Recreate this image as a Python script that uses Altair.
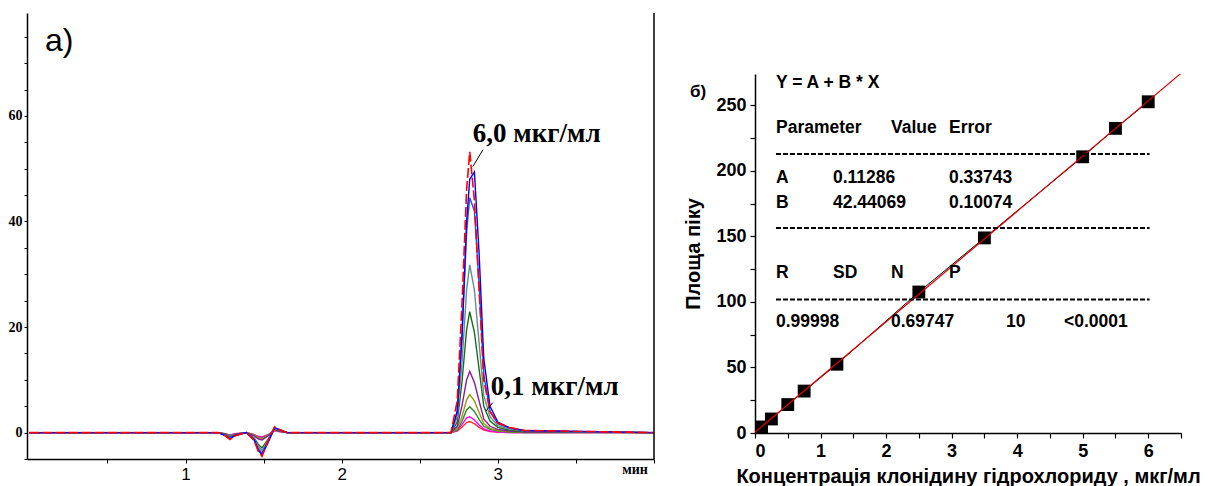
import altair as alt
import pandas as pd

# ---------------- Panel a) chromatogram ----------------
# retention-time grid (min) around the solvent dips and the analyte peak
t_start = [0.0]
t_dip = [1.21, 1.25, 1.285, 1.32, 1.39, 1.44, 1.465, 1.49, 1.53, 1.57, 1.60, 1.65]
t_peak = [2.70, 2.74, 2.77, 2.80, 2.82, 2.85, 2.88, 2.91, 2.95, 3.00, 3.07, 3.17]
t_end = [4.0]

curve_names = ["0.1", "0.25", "0.5", "0.75", "1.25", "2.5", "3.5", "5.0", "5.5", "6.0"]
curve_colors = ["#ff3030", "#ff00ff", "#2e8b2e", "#9a9a10", "#8b1a9b",
                "#1e6b1e", "#5f9090", "#3050e0", "#0000ff", "#ff0000"]

dip_vals = {
    "0.1":  [0, -0.2, -0.5, -0.2, 0, -0.4, -0.7, -0.8, -0.4, 0.4, 0.2, 0],
    "0.25": [0, -0.2, -0.5, -0.2, 0, -0.4, -0.8, -0.9, -0.4, 0.4, 0.2, 0],
    "0.5":  [0, -0.2, -0.6, -0.3, 0, -0.5, -1.0, -1.1, -0.5, 0.5, 0.3, 0],
    "0.75": [0, -0.3, -0.7, -0.3, 0, -0.5, -1.0, -1.2, -0.5, 0.5, 0.3, 0],
    "1.25": [0, -0.3, -0.8, -0.3, 0, -0.6, -1.2, -1.4, -0.6, 0.6, 0.3, 0],
    "2.5":  [0, -0.3, -0.9, -0.4, 0, -1.0, -2.2, -2.9, -1.2, 0.7, 0.4, 0],
    "3.5":  [0, -0.4, -1.0, -0.4, 0, -1.1, -2.6, -3.4, -1.4, 0.8, 0.5, 0],
    "5.0":  [0, -0.4, -1.1, -0.5, 0, -1.3, -3.0, -3.9, -1.6, 0.9, 0.5, 0],
    "5.5":  [0, -0.5, -1.2, -0.5, 0, -1.4, -3.3, -4.2, -1.8, 0.9, 0.6, 0],
    "6.0":  [0, -0.5, -1.3, -0.6, 0, -1.5, -3.5, -4.5, -1.5, 1.1, 0.6, 0],
}
peak_vals = {
    "0.1":  [0, 0.3, 1.0, 1.9, 2.1, 1.7, 1.0, 0.5, 0.2, 0.1, 0, 0],
    "0.25": [0, 0.4, 1.5, 2.8, 3.0, 2.4, 1.5, 0.7, 0.3, 0.1, 0, 0],
    "0.5":  [0, 0.5, 2.1, 4.3, 4.9, 4.0, 2.5, 1.2, 0.6, 0.3, 0.1, 0],
    "0.75": [0, 0.8, 3.0, 6.2, 7.2, 6.0, 3.8, 1.7, 0.8, 0.4, 0.2, 0.1],
    "1.25": [0, 1.2, 5.0, 10.0, 11.6, 9.5, 6.0, 2.6, 1.2, 0.6, 0.3, 0.1],
    "2.5":  [0, 2.0, 9.5, 19.5, 22.9, 19.0, 12.0, 5.0, 2.2, 1.0, 0.5, 0.2],
    "3.5":  [0, 3.0, 13.0, 27.0, 31.8, 27.0, 17.0, 7.0, 3.0, 1.3, 0.7, 0.3],
    "5.0":  [0, 4.0, 18.0, 38.0, 44.5, 42.0, 28.0, 11.0, 4.0, 1.7, 0.9, 0.3],
    "5.5":  [0, 4.0, 18.0, 40.0, 48.0, 49.4, 34.0, 14.0, 5.0, 2.0, 1.0, 0.4],
    "6.0":  [0, 6.0, 24.0, 46.0, 53.2, 44.0, 27.0, 10.0, 4.0, 1.8, 1.0, 0.4],
}

# ---------------- Panel b) calibration ----------------
conc = [0.1, 0.25, 0.5, 0.75, 1.25, 2.5, 3.5, 5.0, 5.5, 6.0]
area = [4.6, 10.7, 21.7, 32.0, 52.5, 107.6, 148.9, 210.8, 232.5, 252.8]

table_rows = [
    ["Y = A + B * X"],
    ["Parameter", "Value", "Error"],
    ["A", "0.11286", "0.33743"],
    ["B", "42.44069", "0.10074"],
    ["R", "SD", "N", "P"],
    ["0.99998", "0.69747", "10", "<0.0001"],
]

# ================= build panel a =================
times = t_start + t_dip + t_peak + t_end
recs = []
for name in curve_names:
    vals = [0] + dip_vals[name] + peak_vals[name] + [0]
    for t, v in zip(times, vals):
        recs.append({"t": t, "v": v, "curve": name})
chrom = pd.DataFrame(recs)

xa = alt.Axis(values=[0.5, 1, 1.5, 2, 2.5, 3, 3.5, 4], format="~g",
              labelExpr="(datum.value == 1 || datum.value == 2 || datum.value == 3) ? datum.label : ''",
              labelFont="Liberation Sans", labelFontSize=17, labelColor="black",
              labelPadding=3, tickSize=4, tickColor="black", domainColor="black",
              domainWidth=1.5, grid=False, title=None, labelOverlap=False)
ya = alt.Axis(values=list(range(-5, 80, 5)),
              labelExpr="(datum.value % 20 == 0) ? datum.label : ''",
              labelFont="Liberation Serif", labelFontWeight="bold", labelFontSize=14,
              labelColor="black", labelPadding=2, tickSize=3, tickColor="black",
              domainColor="black", domainWidth=1.5, grid=False, title=None,
              labelOverlap=False)
xs = alt.Scale(domain=[-0.015, 4.0], nice=False, zero=False)
ysc = alt.Scale(domain=[-5, 79.5], nice=False, zero=False)

left_layers = []
for name, col in zip(curve_names, curve_colors):
    props = dict(color=col, strokeWidth=1.4, clip=True)
    if name == "6.0":
        props["strokeDash"] = [10, 3]
        props["strokeWidth"] = 1.6
    left_layers.append(
        alt.Chart(chrom).transform_filter(alt.datum.curve == name)
        .mark_line(**props)
        .encode(x=alt.X("t:Q", scale=xs, axis=xa), y=alt.Y("v:Q", scale=ysc, axis=ya))
    )

ann_a = pd.DataFrame({"t": [2.84, 2.955], "v": [56.6, 8.7],
                      "s": ["6,0 мкг/мл", "0,1 мкг/мл"]})
lead_a = pd.DataFrame({"t": [2.905, 2.967], "v": [53.6, 5.66],
                       "t2": [2.84, 2.924], "v2": [50.4, 4.1]})
left_layers.append(
    alt.Chart(ann_a).mark_text(align="left", baseline="middle", font="Liberation Serif",
                               fontWeight="bold", fontSize=27, color="black")
    .encode(x=alt.X("t:Q", scale=xs, axis=xa), y=alt.Y("v:Q", scale=ysc, axis=ya), text="s:N")
)
left_layers.append(
    alt.Chart(lead_a).mark_rule(color="black", strokeWidth=1)
    .encode(x=alt.X("t:Q", scale=xs, axis=xa), y=alt.Y("v:Q", scale=ysc, axis=ya),
            x2="t2:Q", y2="v2:Q")
)
one = pd.DataFrame({"a": [0]})
left_layers.append(
    alt.Chart(one).mark_text(align="left", baseline="middle", font="Liberation Sans",
                             fontSize=32, color="black")
    .encode(x=alt.value(18), y=alt.value(28), text=alt.value("a)"))
)
left_layers.append(
    alt.Chart(one).mark_text(align="center", baseline="middle", font="Liberation Serif",
                             fontWeight="bold", fontSize=14, color="black")
    .encode(x=alt.value(608), y=alt.value(457), text=alt.value("мин"))
)
left_layers.append(
    alt.Chart(one).mark_rule(color="black", strokeWidth=1.5)
    .encode(x=alt.value(627), y=alt.value(0), y2=alt.value(446))
)
left = alt.layer(*left_layers).properties(width=627, height=446)

# ================= build panel b =================
calib = pd.DataFrame({"conc": conc, "area": area})
bxs = alt.Scale(domain=[0, 6.5], nice=False, zero=False)
bys = alt.Scale(domain=[0, 274], nice=False, zero=False)
bxa = alt.Axis(values=[i * 0.5 for i in range(14)], format="~g",
               labelExpr="(datum.value % 1 == 0) ? datum.label : ''",
               labelFont="Liberation Sans", labelFontWeight="bold", labelFontSize=18,
               labelColor="black", labelPadding=4, tickSize=5, tickColor="black",
               domainColor="black", domainWidth=1.5, tickWidth=1.2, grid=False,
               title="Концентрація клонідину гідрохлориду , мкг/мл",
               titleFont="Liberation Sans", titleFontWeight="bold", titleFontSize=20,
               titleColor="black", titlePadding=6, labelOverlap=False)
bya = alt.Axis(values=list(range(0, 275, 25)),
               labelExpr="(datum.value % 50 == 0) ? datum.label : ''",
               labelFont="Liberation Sans", labelFontWeight="bold", labelFontSize=18,
               labelColor="black", labelPadding=4, tickSize=5, tickColor="black",
               domainColor="black", domainWidth=1.5, tickWidth=1.2, grid=False,
               title="Площа піку", titleFont="Liberation Sans", titleFontWeight="bold",
               titleFontSize=20, titleColor="black", titlePadding=12, labelOverlap=False)
benc = dict(x=alt.X("conc:Q", scale=bxs, axis=bxa), y=alt.Y("area:Q", scale=bys, axis=bya))

pts_line = alt.Chart(calib).mark_line(color="black", strokeWidth=1).encode(**benc)
pts = alt.Chart(calib).mark_square(size=165, color="black", opacity=1).encode(**benc)
fit = (alt.Chart(calib)
       .transform_regression("conc", "area", extent=[0, 6.5])
       .mark_line(color="#e00000", strokeWidth=1.2, clip=True).encode(**benc))

# text block layout (data coordinates)
row_y = [267.2, 232.8, 194.7, 175.6, 122.1, 84.4]
col_x = {0: [0.32], 1: [0.32, 2.075, 2.96], 2: [0.32, 1.19, 2.96], 3: [0.32, 1.19, 2.96],
         4: [0.32, 1.19, 2.075, 2.96], 5: [0.32, 2.075, 3.83, 4.715]}
trecs = []
for i, row in enumerate(table_rows):
    for s, x in zip(row, col_x[i]):
        trecs.append({"conc": x, "area": row_y[i], "s": s})
tdf = pd.DataFrame(trecs)
block = (alt.Chart(tdf).mark_text(align="left", baseline="middle", font="Liberation Sans",
                                  fontWeight="bold", fontSize=17.5, color="black")
         .encode(text="s:N", **benc))
dash_df = pd.DataFrame({"conc": [0.32, 0.32, 0.32], "c2": [6.02, 6.02, 6.02],
                        "area": [213.0, 156.5, 101.8]})
dashes = (alt.Chart(dash_df).mark_rule(color="black", strokeWidth=2, strokeDash=[5, 2])
          .encode(x2="c2:Q", **benc))
blabel = (alt.Chart(one).mark_text(align="left", baseline="middle", font="Liberation Sans",
                                   fontWeight="bold", fontSize=17, color="black")
          .encode(x=alt.value(-65), y=alt.value(18), text=alt.value("б)")))

right = alt.layer(pts_line, pts, fit, dashes, block, blabel).properties(width=426, height=359)

spacer = (alt.Chart(one).mark_point(opacity=0)
          .encode(x=alt.X("a:Q", axis=None), y=alt.Y("a:Q", axis=None))
          .properties(width=426, height=60))

chart = (alt.hconcat(left, alt.vconcat(spacer, right, spacing=0), spacing=28)
         .properties(padding={"left": 8, "top": 12, "right": 2, "bottom": 2},
                     background="white")
         .configure_view(stroke=None))

chart.save("out.html", embed_options={"renderer": "svg", "actions": False})
